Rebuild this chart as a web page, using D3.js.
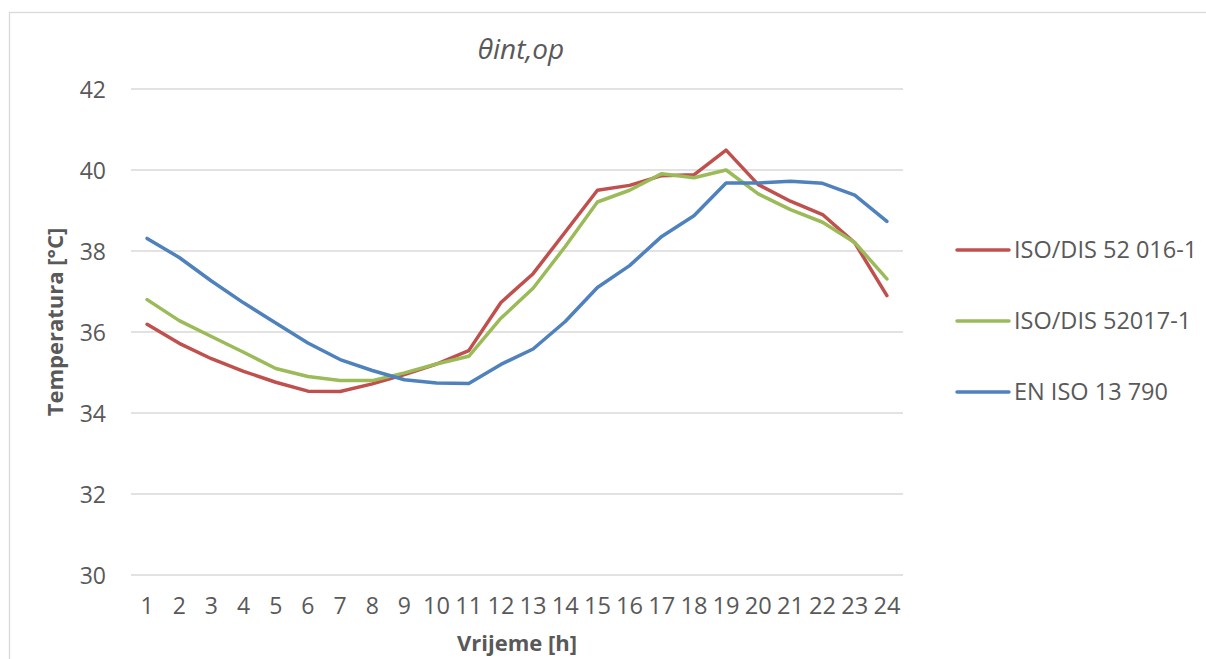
<!DOCTYPE html>
<html><head><meta charset="utf-8">
<script src="https://cdn.jsdelivr.net/npm/d3@7"></script>
<style>
html,body{margin:0;padding:0;background:#fff;}
svg{display:block;font-family:"Open Sans",sans-serif;}
</style></head>
<body>
<svg id="chart" width="1206" height="659"></svg>
<script>
const hours = ["1","2","3","4","5","6","7","8","9","10","11","12","13","14","15","16","17","18","19","20","21","22","23","24"];
const isoDis52016 = [36.19,35.72,35.34,35.03,34.76,34.54,34.53,34.72,34.95,35.21,35.54,36.73,37.44,38.47,39.50,39.62,39.86,39.88,40.49,39.64,39.23,38.90,38.20,36.90];
const isoDis52017 = [36.80,36.28,35.89,35.50,35.10,34.90,34.80,34.80,34.99,35.21,35.40,36.34,37.08,38.11,39.21,39.50,39.91,39.81,40.00,39.41,39.02,38.71,38.21,37.31];
const enIso13790 = [38.31,37.84,37.26,36.72,36.22,35.73,35.32,35.05,34.82,34.74,34.73,35.20,35.58,36.26,37.10,37.64,38.36,38.87,39.68,39.68,39.72,39.67,39.38,38.73];
const seriesNames = ["ISO/DIS 52 016-1","ISO/DIS 52017-1","EN ISO 13 790"];
const seriesColors = ["#c0504d","#9bbb59","#4f81bd"];
const yTicks = [30,32,34,36,38,40,42];

(function(){
const series = [isoDis52016, isoDis52017, enIso13790];
const svg = d3.select("#chart");

// outer border
svg.append("rect").attr("x",9.5).attr("y",12.5).attr("width",1210).attr("height",660)
  .attr("fill","none").attr("stroke","#d9d9d9").attr("stroke-width",1.3);

const pL=131, pR=903, pT=89, pB=575;
const x = d3.scaleBand().domain(hours).range([pL,pR]);
const y = d3.scaleLinear().domain([30,42]).range([pB,pT]);

// gridlines
svg.append("g").selectAll("line").data(yTicks).join("line")
  .attr("x1",pL).attr("x2",pR)
  .attr("y1",d=>y(d)).attr("y2",d=>y(d))
  .attr("stroke","#d9d9d9").attr("stroke-width",1.5);

// y axis labels
const yAxis = d3.axisLeft(y).tickValues(yTicks).tickSize(0).tickPadding(0);
const gy = svg.append("g").attr("transform",`translate(106,0)`).call(yAxis);
gy.select(".domain").remove();
gy.selectAll("text").attr("fill","#595959").style("font-size","23px").style("font-family","'Open Sans',sans-serif").attr("dy","0.35em");

// x axis labels
const xAxis = d3.axisBottom(x).tickSize(0).tickPadding(0);
const gx = svg.append("g").attr("transform",`translate(0,597)`).call(xAxis);
gx.select(".domain").remove();
gx.selectAll("text").attr("fill","#595959").style("font-size","23px").style("font-family","'Open Sans',sans-serif").attr("dy","0.72em").attr("textLength",function(d){return d.length>1?27:null;}).attr("lengthAdjust","spacingAndGlyphs");

// lines
const line = d3.line().x((d,i)=>x(hours[i])+x.bandwidth()/2).y(d=>y(d));
svg.append("g").selectAll("path").data(series).join("path")
  .attr("d",line).attr("fill","none")
  .attr("stroke",(d,i)=>seriesColors[i]).attr("stroke-width",3.5)
  .attr("stroke-linejoin","round").attr("stroke-linecap","round");

// title
svg.append("text").attr("x",521).attr("y",59).attr("text-anchor","middle")
  .attr("fill","#595959").style("font-size","28px").style("font-style","italic")
  .text("θint,op");

// axis titles
svg.append("text").attr("x",517).attr("y",651).attr("text-anchor","middle")
  .attr("fill","#595959").style("font-size","22px").style("font-weight","bold")
  .text("Vrijeme [h]");
svg.append("text").attr("transform","translate(63,322) rotate(-90)").attr("text-anchor","middle")
  .attr("fill","#595959").style("font-size","22px").style("font-weight","bold")
  .text("Temperatura [°C]");

// legend
const legY = [250,321,392];
const lg = svg.append("g").selectAll("g").data(seriesNames).join("g")
  .attr("transform",(d,i)=>`translate(0,${legY[i]})`);
lg.append("line").attr("x1",957).attr("x2",1009).attr("y1",0).attr("y2",0)
  .attr("stroke",(d,i)=>seriesColors[i]).attr("stroke-width",3.5).attr("stroke-linecap","round");
lg.append("text").attr("x",1014).attr("y",0).attr("dy","0.35em")
  .attr("fill","#595959").style("font-size","23.5px").text(d=>d);
})();
</script>
</body></html>
